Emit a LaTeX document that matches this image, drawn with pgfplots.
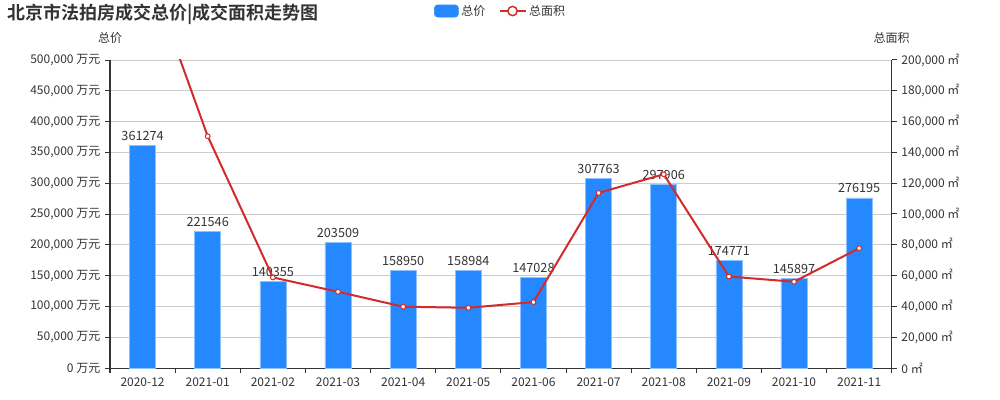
\documentclass[border=0pt]{standalone}
\usepackage{pgfplots}
\usepackage{pgfplotstable}
\pgfplotsset{compat=1.18}
\usepackage{fontspec}
\setmainfont{Noto Sans CJK SC}[BoldFont={Noto Sans CJK SC Bold}]
\definecolor{barblue}{HTML}{2688FF}
\definecolor{baredge}{HTML}{8CC2FF}
\definecolor{linered}{HTML}{D22B2B}
\definecolor{gridgray}{HTML}{CCCCCC}
\definecolor{axisgray}{HTML}{333333}
\definecolor{textgray}{HTML}{333333}

\pgfplotstableread{
x price label
0 361274 361274
1 221546 221546
2 140355 140355
3 203509 203509
4 158950 158950
5 158984 158984
6 147028 147028
7 307763 307763
8 297906 297906
9 174771 174771
10 145897 145897
11 276195 276195
}\pricetable

\pgfplotstableread{
x area
0 268000
1 150500
2 58800
3 49500
4 39800
5 39100
6 42800
7 113700
8 125800
9 59400
10 56000
11 77800
}\areatable

\pgfplotsset{mybase/.style={
  scale only axis, width=586.3pt, height=231pt,
  xmin=-0.5, xmax=11.5, ymin=0,
  clip mode=individual,
  axis line style={axisgray, line width=0.75pt},
  tick style={axisgray, line width=0.75pt},
  major tick length=3.75pt,
  tick align=outside,
  tick label style={font=\fontsize{9}{10}\selectfont, text=textgray},
  /pgf/number format/assume math mode=true,
  scaled y ticks=false,
},
linelegend/.style={legend image code/.code={\draw[mark repeat=2,mark phase=2,##1] plot coordinates {(0pt,0pt) (9.75pt,0pt) (19.5pt,0pt)};}},
barlegend/.style={legend image code/.code={\fill[barblue, rounded corners=2.5pt] (0pt,-4.5pt) rectangle (18pt,4.5pt);}}
}

\begin{document}
\begin{tikzpicture}
\useasboundingbox (0,0) rectangle (750pt,300pt);
\begin{axis}[mybase, at={(82.5pt,24pt)}, anchor=south west,
  ymax=500000, ytick={0,50000,...,500000},
  axis x line*=bottom, axis y line*=left,
  ymajorgrids, grid style={gridgray, line width=0.75pt},
  xtick={-0.5,0.5,...,11.5}, x tick label as interval,
  xticklabels={2020-12,2021-01,2021-02,2021-03,2021-04,2021-05,2021-06,2021-07,2021-08,2021-09,2021-10,2021-11},
  yticklabel={\pgfmathprintnumber[fixed,precision=0,1000 sep={,}]{\tick}~万元},
  legend style={at={(0.5,1)}, anchor=center, yshift=36.75pt, draw=none, fill=none,
    legend columns=2, font=\fontsize{9}{10}\selectfont, text=textgray,
    /tikz/every even column/.append style={column sep=8pt}},
  ]
\addplot[ybar, bar width=0.4, fill=barblue, draw=baredge, line width=0.5pt,
  point meta=explicit symbolic,
  nodes near coords={\pgfplotspointmeta},
  nodes near coords style={font=\fontsize{9.5}{10}\selectfont, text=textgray, anchor=south, yshift=0pt},
  barlegend]
  table[x=x, y=price, meta=label]{\pricetable};
\addlegendentry{总价}
\addlegendimage{linered, line width=1.2pt, mark=*, mark size=3.5pt, mark options={fill=white, draw=linered, line width=1.1pt}, linelegend}
\addlegendentry{总面积}
\node[font=\fontsize{9}{10}\selectfont, text=textgray] at (rel axis cs:0,1) [yshift=16.5pt] {总价};
\end{axis}
\begin{axis}[mybase, at={(82.5pt,24pt)}, anchor=south west,
  ymax=200000, ytick={0,20000,...,200000},
  axis x line=none, axis y line*=right,
  yticklabel={\pgfmathprintnumber[fixed,precision=0,1000 sep={,}]{\tick}~㎡},
  yticklabel style={anchor=west},
  ]
\addplot[linered, line width=1.5pt, mark=*, mark size=1.8pt, mark options={fill=white, draw=linered, line width=0.75pt}]
  table[x=x, y=area]{\areatable};
\node[font=\fontsize{9}{10}\selectfont, text=textgray] at (rel axis cs:1,1) [yshift=16.5pt] {总面积};
\end{axis}
\node[anchor=west, font=\fontsize{13.5}{15}\selectfont\bfseries, text=textgray] at (2pt,289.5pt) {北京市法拍房成交总价|成交面积走势图};
\end{tikzpicture}
\end{document}
